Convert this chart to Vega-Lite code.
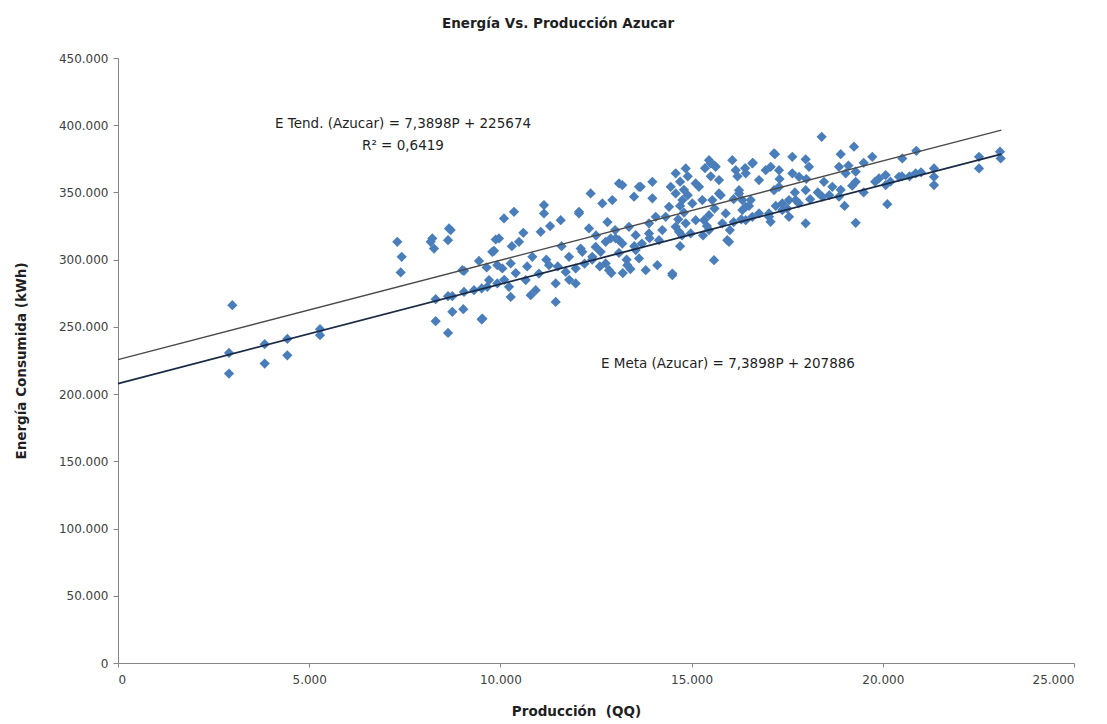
{
  "$schema": "https://vega.github.io/schema/vega-lite/v6.json",
  "width": 956,
  "height": 605,
  "autosize": {"type": "none"},
  "padding": {"left": 118, "top": 58, "right": 33, "bottom": 61},
  "background": "white",
  "config": {"view": {"stroke": null}, "font": "DejaVu Sans"},
  "title": {"text": "Energía Vs. Producción Azucar", "fontSize": 13.5, "fontWeight": "bold", "color": "#1f1f1f", "anchor": "middle", "dx": -38, "offset": 22, "font": "DejaVu Sans"},
  "datasets": {
    "puntos": [
      {"P": 2990, "E": 266100}, {"P": 2903, "E": 230600}, {"P": 2903, "E": 215300},
      {"P": 3836, "E": 237100}, {"P": 3836, "E": 222700}, {"P": 4428, "E": 241000}, {"P": 4428, "E": 228900},
      {"P": 5283, "E": 248300}, {"P": 5283, "E": 243800},
      {"P": 7304, "E": 313300}, {"P": 7419, "E": 302100}, {"P": 7393, "E": 290500},
      {"P": 8177, "E": 313300}, {"P": 8264, "E": 308300}, {"P": 8656, "E": 323200}, {"P": 8630, "E": 314500},
      {"P": 9048, "E": 291700}, {"P": 9440, "E": 299100}, {"P": 9641, "E": 294200}, {"P": 9833, "E": 306600},
      {"P": 9877, "E": 315000}, {"P": 8307, "E": 270600}, {"P": 8307, "E": 254200}, {"P": 8630, "E": 272800},
      {"P": 8630, "E": 245500}, {"P": 8743, "E": 272800}, {"P": 8743, "E": 261200}, {"P": 9048, "E": 276000},
      {"P": 9030, "E": 263200}, {"P": 9510, "E": 255500}, {"P": 9510, "E": 278600}, {"P": 9657, "E": 279800},
      {"P": 9919, "E": 282300}, {"P": 9919, "E": 295900},
      {"P": 9004, "E": 292200}, {"P": 9527, "E": 256200}, {"P": 9788, "E": 305800}, {"P": 9963, "E": 315800},
      {"P": 10050, "E": 293500}, {"P": 10094, "E": 330700}, {"P": 10356, "E": 335600}, {"P": 10269, "E": 272300},
      {"P": 10269, "E": 297200}, {"P": 10486, "E": 313300}, {"P": 10662, "E": 284800}, {"P": 10835, "E": 302100},
      {"P": 10923, "E": 277300}, {"P": 11054, "E": 320700}, {"P": 11140, "E": 340600}, {"P": 11140, "E": 334400},
      {"P": 11446, "E": 268600}, {"P": 11577, "E": 329400}, {"P": 11708, "E": 290900}, {"P": 11969, "E": 282300},
      {"P": 12055, "E": 335600}, {"P": 12317, "E": 323200}, {"P": 12360, "E": 349300}, {"P": 12099, "E": 308300},
      {"P": 12622, "E": 305800}, {"P": 12665, "E": 341800}, {"P": 12753, "E": 297200}, {"P": 12884, "E": 315800},
      {"P": 12927, "E": 344300}, {"P": 13101, "E": 314500}, {"P": 13188, "E": 355500}, {"P": 13319, "E": 295900},
      {"P": 13363, "E": 324400}, {"P": 13494, "E": 346800}, {"P": 13538, "E": 307100}, {"P": 13625, "E": 300900},
      {"P": 13669, "E": 354200}, {"P": 13800, "E": 292200}, {"P": 13886, "E": 327000}, {"P": 13974, "E": 345600},
      {"P": 14104, "E": 295900}, {"P": 14147, "E": 314500}, {"P": 14322, "E": 331900}, {"P": 14453, "E": 354200},
      {"P": 14496, "E": 289700}, {"P": 14671, "E": 320700}, {"P": 14758, "E": 344300}, {"P": 14846, "E": 327000},
      {"P": 14977, "E": 319500}, {"P": 15107, "E": 356700}, {"P": 15324, "E": 329400}, {"P": 15280, "E": 344300},
      {"P": 15586, "E": 299600}, {"P": 15760, "E": 348000}, {"P": 15803, "E": 327000}, {"P": 15978, "E": 313300},
      {"P": 16240, "E": 349300}, {"P": 16415, "E": 329400}, {"P": 16546, "E": 344300}, {"P": 16763, "E": 334400},
      {"P": 17066, "E": 328200}, {"P": 17155, "E": 351700}, {"P": 17372, "E": 341800}, {"P": 17547, "E": 331900},
      {"P": 17722, "E": 344300},
      {"P": 9310, "E": 277300}, {"P": 9702, "E": 284800}, {"P": 10225, "E": 279800}, {"P": 11009, "E": 289700},
      {"P": 11271, "E": 295900}, {"P": 11794, "E": 302100}, {"P": 12142, "E": 305800}, {"P": 12492, "E": 309500},
      {"P": 12753, "E": 313300}, {"P": 13015, "E": 315800}, {"P": 13188, "E": 312000}, {"P": 13538, "E": 318200},
      {"P": 13886, "E": 319500}, {"P": 14234, "E": 322000}, {"P": 14584, "E": 324400}, {"P": 15107, "E": 329400},
      {"P": 15455, "E": 333100}, {"P": 15892, "E": 334400}, {"P": 16327, "E": 336900}, {"P": 17024, "E": 331900},
      {"P": 17372, "E": 336900}, {"P": 10792, "E": 273600}, {"P": 11446, "E": 282300}, {"P": 11969, "E": 293500},
      {"P": 12403, "E": 302100}, {"P": 12840, "E": 292200}, {"P": 14496, "E": 288500},
      {"P": 17155, "E": 379000}, {"P": 15455, "E": 374000}, {"P": 16065, "E": 374000}, {"P": 16588, "E": 371600},
      {"P": 14846, "E": 367900}, {"P": 16938, "E": 366600}, {"P": 13101, "E": 356700}, {"P": 8700, "E": 322000},
      {"P": 8219, "E": 315800}, {"P": 12055, "E": 334400}, {"P": 13625, "E": 354200}, {"P": 13974, "E": 357900},
      {"P": 14584, "E": 364200}, {"P": 15630, "E": 369100}, {"P": 16153, "E": 366600}, {"P": 17634, "E": 376500},
      {"P": 18401, "E": 391400}, {"P": 19247, "E": 384000}, {"P": 17181, "E": 378500}, {"P": 20876, "E": 381000},
      {"P": 19725, "E": 376500}, {"P": 18899, "E": 378500}, {"P": 17983, "E": 374600}, {"P": 20510, "E": 375300},
      {"P": 22516, "E": 376500}, {"P": 23065, "E": 380300}, {"P": 23082, "E": 375300}, {"P": 22516, "E": 367900},
      {"P": 21339, "E": 367900}, {"P": 21339, "E": 361600}, {"P": 21339, "E": 355500}, {"P": 20860, "E": 364200},
      {"P": 20075, "E": 362900}, {"P": 20075, "E": 355500}, {"P": 20118, "E": 341300}, {"P": 19291, "E": 327400},
      {"P": 19030, "E": 364200}, {"P": 19291, "E": 365400}, {"P": 19291, "E": 357900}, {"P": 18680, "E": 354200},
      {"P": 18462, "E": 357900}, {"P": 17983, "E": 351700}, {"P": 17983, "E": 327000}, {"P": 17547, "E": 344300},
      {"P": 17286, "E": 366600}, {"P": 17068, "E": 369100}, {"P": 17024, "E": 334400}, {"P": 16588, "E": 331900},
      {"P": 16415, "E": 364200}, {"P": 16327, "E": 344300}, {"P": 15933, "E": 314500}, {"P": 15455, "E": 322000},
      {"P": 15717, "E": 349300}, {"P": 15499, "E": 371600}, {"P": 18419, "E": 346800}, {"P": 18855, "E": 346800},
      {"P": 19901, "E": 360400}, {"P": 20424, "E": 361600}, {"P": 17809, "E": 361600}, {"P": 18070, "E": 369100},
      {"P": 18855, "E": 369100},
      {"P": 15193, "E": 354200}, {"P": 15717, "E": 359200}, {"P": 16240, "E": 351700}, {"P": 16763, "E": 359200},
      {"P": 17286, "E": 354200}, {"P": 17634, "E": 364200}, {"P": 15018, "E": 341800}, {"P": 15541, "E": 344300},
      {"P": 16415, "E": 339300}, {"P": 14584, "E": 349300}, {"P": 14410, "E": 339300}, {"P": 14061, "E": 331900},
      {"P": 14700, "E": 310000}, {"P": 14750, "E": 318000}, {"P": 14800, "E": 335000}, {"P": 14700, "E": 340000},
      {"P": 14900, "E": 348000}, {"P": 14800, "E": 352000}, {"P": 14700, "E": 358000}, {"P": 14900, "E": 362000},
      {"P": 14650, "E": 330000},
      {"P": 15300, "E": 318000}, {"P": 15400, "E": 325000}, {"P": 15600, "E": 338000}, {"P": 15500, "E": 362000},
      {"P": 15350, "E": 368000}, {"P": 15600, "E": 370000},
      {"P": 16000, "E": 322000}, {"P": 16100, "E": 328000}, {"P": 16300, "E": 330000}, {"P": 16500, "E": 340000},
      {"P": 16200, "E": 362000}, {"P": 16400, "E": 368000}, {"P": 16600, "E": 372000}, {"P": 16100, "E": 345000},
      {"P": 13100, "E": 305000}, {"P": 13300, "E": 300000}, {"P": 13500, "E": 310000}, {"P": 13700, "E": 312000},
      {"P": 13900, "E": 316000}, {"P": 13200, "E": 290000}, {"P": 13400, "E": 293000},
      {"P": 12200, "E": 297000}, {"P": 12400, "E": 300000}, {"P": 12600, "E": 295000}, {"P": 12900, "E": 290000},
      {"P": 12500, "E": 318000}, {"P": 12800, "E": 328000}, {"P": 13000, "E": 322000},
      {"P": 11200, "E": 300000}, {"P": 11500, "E": 295000}, {"P": 11800, "E": 285000}, {"P": 11300, "E": 325000},
      {"P": 11600, "E": 310000},
      {"P": 10100, "E": 285000}, {"P": 10400, "E": 290000}, {"P": 10700, "E": 295000}, {"P": 10300, "E": 310000},
      {"P": 10600, "E": 320000},
      {"P": 17200, "E": 340000}, {"P": 17500, "E": 338000}, {"P": 17800, "E": 342000}, {"P": 18100, "E": 345000},
      {"P": 18300, "E": 350000}, {"P": 17700, "E": 350000}, {"P": 18000, "E": 360000}, {"P": 17300, "E": 360000},
      {"P": 18600, "E": 348000}, {"P": 18900, "E": 352000}, {"P": 19200, "E": 355000}, {"P": 19500, "E": 350000},
      {"P": 19800, "E": 358000}, {"P": 19000, "E": 340000}, {"P": 19500, "E": 372000}, {"P": 19100, "E": 370000},
      {"P": 20200, "E": 358000}, {"P": 20500, "E": 362000}, {"P": 20700, "E": 362000}, {"P": 21000, "E": 365000}
    ],
    "lineas": [
      {"serie": "Tend", "P": 0, "E": 225674}, {"serie": "Tend", "P": 23100, "E": 396378},
      {"serie": "Meta", "P": 0, "E": 207886}, {"serie": "Meta", "P": 23100, "E": 378590}
    ],
    "notas": [
      {"P": 7453, "E": 400900, "texto": "E Tend. (Azucar) = 7,3898P + 225674", "alin": "center"},
      {"P": 7453, "E": 384500, "texto": "R² = 0,6419", "alin": "center"},
      {"P": 12630, "E": 222200, "texto": "E  Meta (Azucar) = 7,3898P + 207886", "alin": "left"}
    ]
  },
  "encoding": {
    "x": {
      "field": "P", "type": "quantitative",
      "scale": {"domain": [0, 25000], "nice": false, "zero": true},
      "axis": {
        "title": "Producción\u00a0 (QQ)", "values": [0, 5000, 10000, 15000, 20000, 25000],
        "labelExpr": "replace(format(datum.value, ','), ',', '.')",
        "grid": false, "domainColor": "#868686", "tickColor": "#868686", "tickSize": 4,
        "labelColor": "#404040", "labelFontSize": 12, "labelPadding": 7, "labelFont": "DejaVu Sans",
        "titleFontSize": 13.5, "titleFontWeight": "bold", "titleColor": "#1f1f1f", "titlePadding": 19,
        "titleFont": "DejaVu Sans", "titleX": 458
      }
    },
    "y": {
      "field": "E", "type": "quantitative",
      "scale": {"domain": [0, 450000], "nice": false, "zero": true},
      "axis": {
        "title": "Energía Consumida (kWh)",
        "values": [0, 50000, 100000, 150000, 200000, 250000, 300000, 350000, 400000, 450000],
        "labelExpr": "replace(format(datum.value, ','), ',', '.')",
        "grid": false, "domainColor": "#868686", "tickColor": "#868686", "tickSize": 5,
        "labelColor": "#404040", "labelFontSize": 12, "labelPadding": 5, "labelFont": "DejaVu Sans",
        "titleFontSize": 13.5, "titleFontWeight": "bold", "titleColor": "#1f1f1f", "titlePadding": 30,
        "titleFont": "DejaVu Sans"
      }
    }
  },
  "layer": [
    {
      "data": {"name": "puntos"},
      "mark": {"type": "point", "shape": "diamond", "filled": true, "size": 105, "color": "#4a7ebb", "opacity": 1}
    },
    {
      "data": {"name": "lineas"},
      "transform": [{"filter": "datum.serie === 'Tend'"}],
      "mark": {"type": "line", "color": "#4a4a4a", "strokeWidth": 1.3}
    },
    {
      "data": {"name": "lineas"},
      "transform": [{"filter": "datum.serie === 'Meta'"}],
      "mark": {"type": "line", "color": "#1b2a44", "strokeWidth": 1.8}
    },
    {
      "data": {"name": "notas"},
      "transform": [{"filter": "datum.alin === 'center'"}],
      "mark": {"type": "text", "align": "center", "baseline": "middle", "fontSize": 13.5, "color": "#1f1f1f", "font": "DejaVu Sans"},
      "encoding": {"text": {"field": "texto"}}
    },
    {
      "data": {"name": "notas"},
      "transform": [{"filter": "datum.alin === 'left'"}],
      "mark": {"type": "text", "align": "left", "baseline": "middle", "fontSize": 13.5, "color": "#1f1f1f", "font": "DejaVu Sans"},
      "encoding": {"text": {"field": "texto"}}
    }
  ]
}
